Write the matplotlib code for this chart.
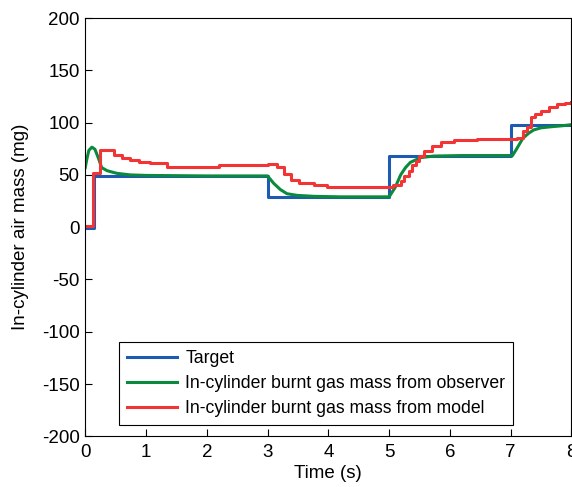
import matplotlib
matplotlib.use("Agg")
import matplotlib.pyplot as plt

plt.rcParams['font.family'] = ['Liberation Sans', 'DejaVu Sans']
plt.rcParams['axes.unicode_minus'] = False

# Target (step, post)
target_t = [0.0, 0.14, 3.0, 5.0, 7.0, 8.0]
target_v = [-1, 48.5, 28.5, 68, 98, 98]

# Observer (smooth)
obs_t = [0.0, 0.03, 0.06, 0.11, 0.16, 0.22, 0.27, 0.36, 0.52, 0.74, 1.0, 2.0, 3.0,
         3.1, 3.21, 3.32, 3.49, 3.76, 4.2, 5.0,
         5.1, 5.19, 5.27, 5.35, 5.52, 5.73, 6.2, 7.03,
         7.1, 7.2, 7.3, 7.38, 7.5, 7.66, 7.85, 8.0]
obs_v = [57, 66, 73.5, 76.5, 74.5, 65.5, 57, 54, 51.5, 50, 49.5, 49, 49,
         42, 36, 32, 30.4, 29.5, 29, 29,
         38, 50, 57, 62, 66.5, 68, 68.5, 68.5,
         75, 85, 90, 93, 95, 96, 97, 98]

# Model (staircase, post)
mod_t = [0.0, 0.13, 0.25, 0.47, 0.6, 0.74, 0.88, 1.07, 1.35, 2.2, 2.6, 3.0,
         3.16, 3.27, 3.38, 3.51, 3.76, 3.98,
         5.07, 5.19, 5.24, 5.32, 5.38, 5.44, 5.49, 5.57, 5.71, 5.85, 6.07, 6.45,
         7.1, 7.2, 7.27, 7.33, 7.4, 7.5, 7.63, 7.77, 7.9, 8.0]
mod_v = [1, 52, 73.5, 69, 66, 64, 62, 61, 58, 59, 59.5, 60,
         57.7, 51, 45, 42, 40, 38.5,
         40, 44, 49, 54, 59, 63, 68, 73, 78, 81, 83, 84,
         85.7, 92, 96, 105, 108, 111.5, 115, 117.6, 119, 120]

fig = plt.figure(figsize=(5.72, 4.87), dpi=100)
ax = fig.add_axes([0.149, 0.104, 0.85, 0.859])

lw = 2.2
fs = 13.5
ax.plot(target_t, target_v, drawstyle='steps-post', color='#1d5bb3', lw=lw, label='Target')
ax.plot(obs_t, obs_v, color='#0a8a3c', lw=lw, label='In-cylinder burnt gas mass from observer')
ax.plot(mod_t, mod_v, drawstyle='steps-post', color='#f23434', lw=lw, label='In-cylinder burnt gas mass from model')

ax.set_xlim(0, 8)
ax.set_ylim(-200, 200)
ax.set_xticks(range(0, 9))
ax.set_yticks(range(-200, 201, 50))
ax.tick_params(direction='in', length=5, width=0.8, labelsize=fs, pad=4)
ax.tick_params(axis='x', pad=5.5)
ax.tick_params(top=False, right=False)
ax.set_xlabel('Time (s)', fontsize=fs, labelpad=3)
ax.set_ylabel('In-cylinder air mass (mg)', fontsize=fs, labelpad=9.5)

leg = ax.legend(loc='lower left', bbox_to_anchor=(0.07, 0.028), fontsize=12.7,
                frameon=True, fancybox=False, edgecolor='black', framealpha=1,
                handlelength=2.8, handletextpad=0.5, borderpad=0.45, labelspacing=0.45,
                borderaxespad=0)
leg.get_frame().set_linewidth(0.8)

fig.savefig('out.png', dpi=100)
